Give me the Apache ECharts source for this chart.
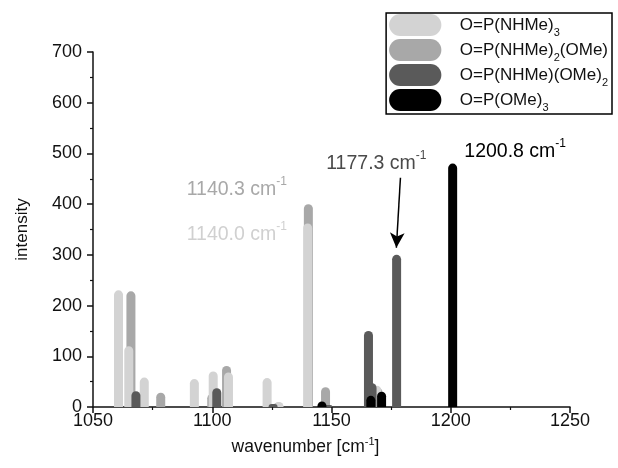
<!DOCTYPE html>
<html>
<head>
<meta charset="utf-8">
<script src="https://cdn.jsdelivr.net/npm/echarts@6/dist/echarts.min.js"></script>
<style>
  html, body { margin: 0; padding: 0; background: #fff; }
  #chart { width: 618px; height: 468px; }
</style>
</head>
<body>
<div id="chart"></div>
<script>
// peaks: [wavenumber, intensity]
const nhme3 = [[1060.7, 230], [1065.0, 120], [1071.5, 58], [1092.5, 55], [1100.4, 70], [1106.8, 68],
  [1123.0, 57], [1128.0, 10], [1140.0, 362], [1169.0, 42]]
const nhme2ome = [[1065.9, 228], [1078.4, 28], [1099.8, 26], [1106.0, 81], [1127.5, 9],
  [1140.3, 400], [1147.5, 39], [1169.5, 38]]
const nhmeome2 = [[1068.0, 31], [1101.9, 37], [1125.5, 6], [1148.5, 4], [1165.5, 150],
  [1167.0, 47], [1177.3, 300]]
const ome3 = [[1146.0, 11], [1166.5, 22], [1171.0, 30], [1200.8, 480]]

const names = ['O=P(NHMe)3', 'O=P(NHMe)2(OMe)', 'O=P(NHMe)(OMe)2', 'O=P(OMe)3']
const legendRich = {
  'O=P(NHMe)3': '{gap| }{t|O=P(NHMe)}{s|3}',
  'O=P(NHMe)2(OMe)': '{gap| }{t|O=P(NHMe)}{s|2}{t|(OMe)}',
  'O=P(NHMe)(OMe)2': '{gap| }{t|O=P(NHMe)(OMe)}{s|2}',
  'O=P(OMe)3': '{gap| }{t|O=P(OMe)}{s|3}'
}
const colors = ['#d3d3d3', '#a8a8a8', '#5a5a5a', '#000000']

const xTicks = { min: 1050, max: 1250, interval: 50 }
const yTicks = { min: 0, max: 700, interval: 100 }

const font = 'Liberation Sans, Arial, sans-serif'
const capsule = 'path://M12,0H45A12,12,0,0,1,45,24H12A12,12,0,0,1,12,0Z'

function peakLabel(coord, text, color) {
  return {
    coord,
    symbol: 'circle',
    symbolSize: 0,
    label: {
      show: true,
      position: 'inside',
      formatter: `{t|${text} cm}{s|-1}`,
      rich: {
        t: { fontFamily: font, fontSize: 19.5, color, lineHeight: 24, verticalAlign: 'bottom' },
        s: { fontFamily: font, fontSize: 12, color, lineHeight: 24, verticalAlign: 'top' }
      }
    }
  }
}

function bars(name, data, color, z, extra) {
  return Object.assign({
    name,
    type: 'bar',
    data,
    barWidth: 9,
    barGap: '-100%',
    z,
    itemStyle: { color, borderRadius: [4.5, 4.5, 0, 0] },
    emphasis: { disabled: true }
  }, extra || {})
}

const chart = echarts.init(document.getElementById('chart'))
chart.setOption({
  animation: false,
  backgroundColor: '#fff',
  grid: { left: 93, right: 48, top: 52, bottom: 61 },
  legend: {
    data: names.map((n, i) => ({ name: n, itemStyle: { color: colors[i] } })),
    orient: 'vertical',
    right: 6,
    top: 13,
    icon: capsule,
    itemWidth: 57,
    itemHeight: 22,
    itemGap: 1,
    padding: [1, 4, 1, 3],
    borderColor: '#000',
    borderWidth: 1.5,
    selectedMode: false,
    formatter: (n) => legendRich[n],
    textStyle: {
      rich: {
        gap: { width: 11, lineHeight: 26 },
        t: { fontFamily: font, fontSize: 17, color: '#111', lineHeight: 22, verticalAlign: 'middle' },
        s: { fontFamily: font, fontSize: 11, color: '#111', lineHeight: 26, verticalAlign: 'bottom' }
      }
    }
  },
  xAxis: {
    type: 'value',
    min: xTicks.min, max: xTicks.max, interval: xTicks.interval,
    name: '{t|wavenumber [cm}{s|-1}{t|]}',
    nameLocation: 'middle',
    nameGap: 29,
    nameTextStyle: {
      padding: [0, 52, 0, 0],
      rich: {
        t: { fontFamily: font, fontSize: 17.5, color: '#111', lineHeight: 20, verticalAlign: 'bottom' },
        s: { fontFamily: font, fontSize: 11, color: '#111', lineHeight: 20, verticalAlign: 'top' }
      }
    },
    axisLine: { onZero: false, lineStyle: { color: '#111', width: 1.5 } },
    axisTick: { show: true, length: 6, lineStyle: { color: '#111', width: 1.5 } },
    minorTick: { show: true, splitNumber: 2, length: 3, lineStyle: { color: '#111', width: 1.2 } },
    axisLabel: { fontFamily: font, fontSize: 18, color: '#111', margin: 5, formatter: (v) => String(v) },
    splitLine: { show: false }
  },
  yAxis: {
    type: 'value',
    min: yTicks.min, max: yTicks.max, interval: yTicks.interval,
    name: 'intensity',
    nameLocation: 'middle',
    nameGap: 62,
    nameTextStyle: { fontFamily: font, fontSize: 17, color: '#111' },
    axisLine: { show: true, lineStyle: { color: '#111', width: 1.5 } },
    axisTick: { show: true, length: 6, lineStyle: { color: '#111', width: 1.5 } },
    minorTick: { show: true, splitNumber: 2, length: 3, lineStyle: { color: '#111', width: 1.2 } },
    axisLabel: { fontFamily: font, fontSize: 18, color: '#111', margin: 11 },
    splitLine: { show: false }
  },
  series: [
    bars(names[1], nhme2ome, colors[1], 2, {
      markPoint: { silent: true, data: [peakLabel([1110.3, 432], '1140.3', '#a8a8a8')] }
    }),
    bars(names[0], nhme3, colors[0], 3, {
      markPoint: { silent: true, data: [peakLabel([1110.3, 343], '1140.0', '#d0d0d0')] }
    }),
    bars(names[2], nhmeome2, colors[2], 4, {
      markPoint: { silent: true, data: [peakLabel([1168.8, 483], '1177.3', '#4a4a4a')] },
      markLine: {
        silent: true,
        symbol: ['none', 'arrow'],
        symbolSize: [11, 15],
        label: { show: false },
        lineStyle: { color: '#000', width: 1.5, type: 'solid' },
        data: [[{ coord: [1178.9, 452] }, { coord: [1177.2, 314] }]]
      }
    }),
    bars(names[3], ome3, colors[3], 5, {
      markPoint: { silent: true, data: [peakLabel([1227, 507], '1200.8', '#000')] }
    })
  ]
})
</script>
</body>
</html>
